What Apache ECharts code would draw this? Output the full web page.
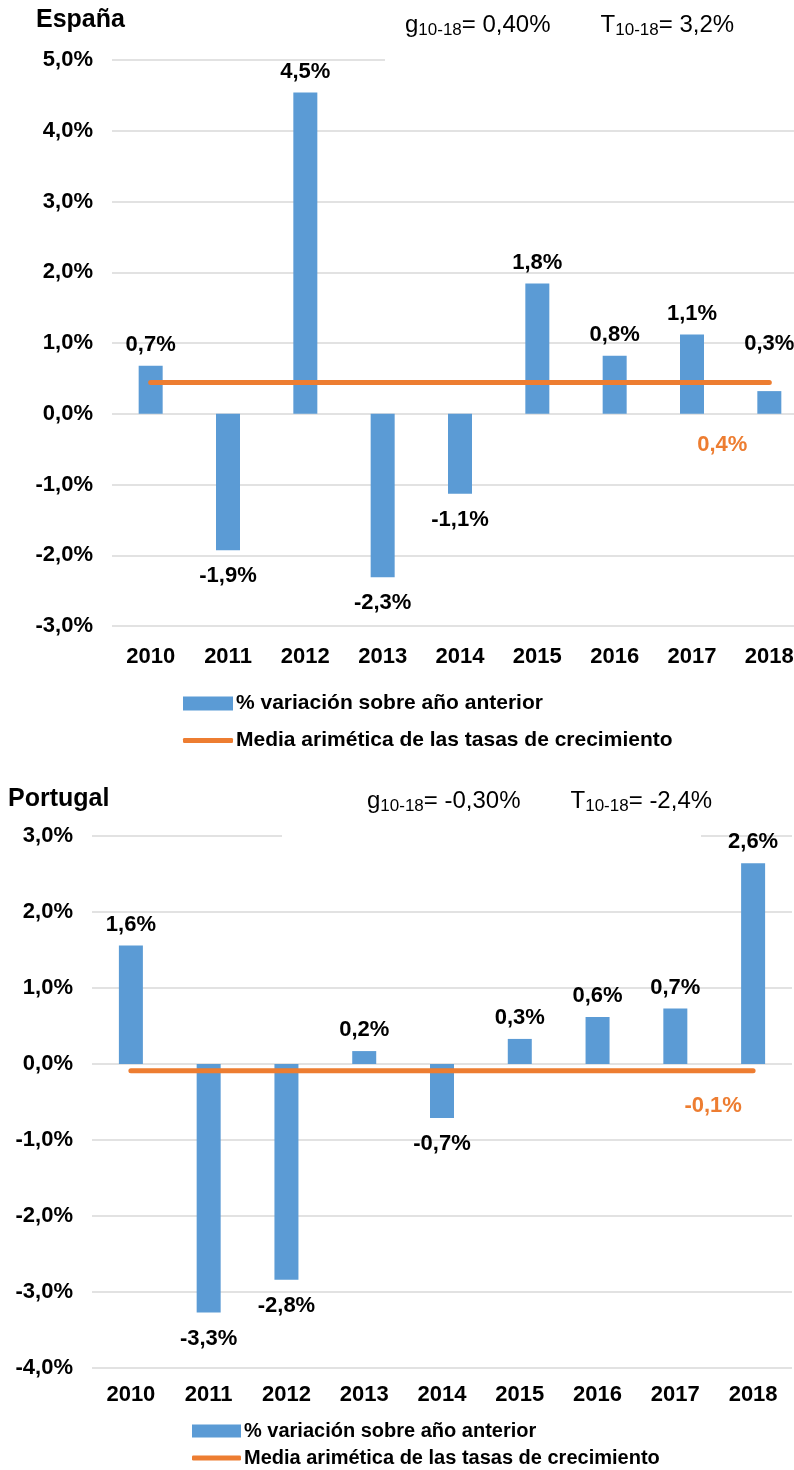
<!DOCTYPE html>
<html>
<head>
<meta charset="utf-8">
<script src="https://cdn.jsdelivr.net/npm/echarts@6/dist/echarts.min.js"></script>
<style>
  html, body { margin: 0; padding: 0; background: #fff; }
  #main { width: 794px; height: 1470px; }
</style>
</head>
<body>
<div id="main"></div>
<script>
var years = ['2010', '2011', '2012', '2013', '2014', '2015', '2016', '2017', '2018'];
var espana = [0.68, -1.93, 4.54, -2.31, -1.13, 1.84, 0.82, 1.12, 0.32];
var espanaMedia = [0.44, 0.44, 0.44, 0.44, 0.44, 0.44, 0.44, 0.44, 0.44];
var portugal = [1.56, -3.27, -2.84, 0.17, -0.71, 0.33, 0.62, 0.73, 2.64];
var portugalMedia = [-0.09, -0.09, -0.09, -0.09, -0.09, -0.09, -0.09, -0.09, -0.09];
var espanaTicks = [-3, 5];
var portugalTicks = [-4, 3];

var nombreBarra = '% variación sobre año anterior';
var nombreLinea = 'Media arimética de las tasas de crecimiento';

var font = 'Liberation Sans, Arial, sans-serif';
var azul = '#5b9bd5';
var naranja = '#ed7d31';

function pct(v) {
  return v.toFixed(1).replace('.', ',') + '%';
}

function barData(vals, raise) {
  return vals.map(function (v, i) {
    var item = { value: v, label: { position: v < 0 ? 'bottom' : 'top', distance: v < 0 ? 15 : 10 } };
    if (raise && raise[i]) item.label.offset = [0, raise[i]];
    return item;
  });
}

function lineData(vals, off) {
  return vals.map(function (v, i) {
    if (i === vals.length - 1) {
      return { value: v, label: { show: true, position: 'bottom', offset: off } };
    }
    return v;
  });
}

// texto g / T con subindices
var rich = {
  n: { fontSize: 24, fontWeight: 'normal', color: '#000', fontFamily: font },
  s: { fontSize: 17, fontWeight: 'normal', color: '#000', fontFamily: font, padding: [10, 0, 0, 0] },
  g: { width: 50 }
};

function legendText(size) {
  return { fontSize: size, fontWeight: 'bold', color: '#000', fontFamily: font, padding: [0, 0, 0, -2] };
}

var mychart = echarts.init(document.getElementById('main'));
var option = {
  backgroundColor: '#fff',
  animation: false,
  textStyle: { fontFamily: font },
  title: [
    { text: 'España', left: 36, top: 8, padding: 0,
      textStyle: { fontSize: 25, fontWeight: 'bold', color: '#000', fontFamily: font } },
    { text: '{n|g}{s|10-18}{n|= 0,40%}{g|}{n|T}{s|10-18}{n|= 3,2%}', left: 405, top: 12, padding: 0,
      textStyle: { fontWeight: 'normal', rich: rich } },
    { text: 'Portugal', left: 8, top: 787, padding: 0,
      textStyle: { fontSize: 25, fontWeight: 'bold', color: '#000', fontFamily: font } },
    { text: '{n|g}{s|10-18}{n|= -0,30%}{g|}{n|T}{s|10-18}{n|= -2,4%}', left: 367, top: 788, padding: 0,
      textStyle: { fontWeight: 'normal', rich: rich } }
  ],
  graphic: [
    { type: 'rect', z: 5, shape: { x: 385, y: 50, width: 420, height: 16 }, style: { fill: '#fff' } },
    { type: 'rect', z: 5, shape: { x: 282, y: 828, width: 419, height: 14 }, style: { fill: '#fff' } }
  ],
  legend: [
    { left: 183, top: 693, padding: 0, itemWidth: 50, itemHeight: 14, itemGap: 4,
      data: [{ name: nombreBarra, icon: 'rect' }], textStyle: legendText(21) },
    { left: 183, top: 730, padding: 0, itemWidth: 50, itemHeight: 5, itemGap: 4,
      data: [{ name: nombreLinea, icon: 'roundRect' }], textStyle: legendText(21) },
    { left: 192, top: 1421, padding: 0, itemWidth: 49, itemHeight: 13, itemGap: 4,
      data: [{ name: nombreBarra, icon: 'rect' }], textStyle: legendText(20) },
    { left: 192, top: 1448, padding: 0, itemWidth: 49, itemHeight: 5, itemGap: 4,
      data: [{ name: nombreLinea, icon: 'roundRect' }], textStyle: legendText(20) }
  ],
  grid: [
    { left: 112, top: 60, width: 696, height: 566, outerBoundsMode: 'none', containLabel: false },
    { left: 92, top: 836, width: 700, height: 532, outerBoundsMode: 'none', containLabel: false }
  ],
  xAxis: [0, 1].map(function (i) {
    return {
      type: 'category', gridIndex: i, data: years,
      axisLine: { show: false }, axisTick: { show: false },
      axisLabel: { margin: i === 0 ? 20 : 16, fontSize: 22, fontWeight: 'bold', color: '#000', fontFamily: font }
    };
  }),
  yAxis: [espanaTicks, portugalTicks].map(function (t, i) {
    return {
      type: 'value', gridIndex: i, min: t[0], max: t[1], interval: 1,
      axisLine: { show: false }, axisTick: { show: false },
      splitLine: { lineStyle: { color: '#d9d9d9', width: 1.5 } },
      axisLabel: { margin: 19, fontSize: 22, fontWeight: 'bold', color: '#000', fontFamily: font, formatter: pct }
    };
  }),
  series: [
    {
      name: nombreBarra, type: 'bar', xAxisIndex: 0, yAxisIndex: 0, barWidth: 24,
      itemStyle: { color: azul },
      label: { show: true, fontSize: 22, fontWeight: 'bold', color: '#000', fontFamily: font,
        formatter: function (p) { return pct(p.value); } },
      data: barData(espana, [0, 0, 0, 0, 0, 0, 0, 0, -26])
    },
    {
      name: nombreLinea, type: 'line', xAxisIndex: 0, yAxisIndex: 0, z: 3,
      symbol: 'circle', symbolSize: 0, showSymbol: true,
      itemStyle: { color: naranja },
      lineStyle: { color: naranja, width: 5, cap: 'round' },
      label: { show: false, fontSize: 22, fontWeight: 'bold', color: naranja, fontFamily: font,
        formatter: function (p) { return pct(p.value); } },
      data: lineData(espanaMedia, [-47, 46])
    },
    {
      name: nombreBarra, type: 'bar', xAxisIndex: 1, yAxisIndex: 1, barWidth: 24,
      itemStyle: { color: azul },
      label: { show: true, fontSize: 22, fontWeight: 'bold', color: '#000', fontFamily: font,
        formatter: function (p) { return pct(p.value); } },
      data: barData(portugal)
    },
    {
      name: nombreLinea, type: 'line', xAxisIndex: 1, yAxisIndex: 1, z: 3,
      symbol: 'circle', symbolSize: 0, showSymbol: true,
      itemStyle: { color: naranja },
      lineStyle: { color: naranja, width: 5, cap: 'round' },
      label: { show: false, fontSize: 22, fontWeight: 'bold', color: naranja, fontFamily: font,
        formatter: function (p) { return pct(p.value); } },
      data: lineData(portugalMedia, [-40, 19])
    }
  ]
};
mychart.setOption(option);
</script>
</body>
</html>
